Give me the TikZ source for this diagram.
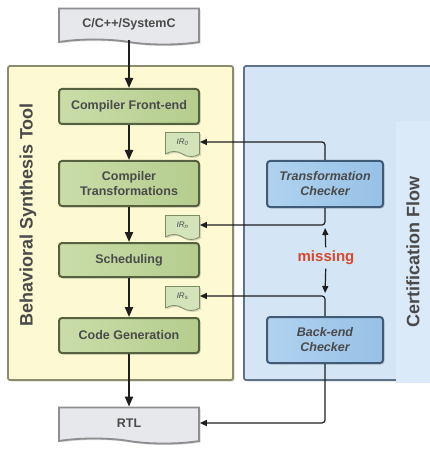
\documentclass[tikz,border=0pt]{standalone}
\usepackage{fontspec}
\setmainfont{Liberation Sans}
\usetikzlibrary{arrows.meta,shapes.symbols,shadows}
\definecolor{papel}{HTML}{E7E8EB}
\definecolor{bordegris}{HTML}{8E8E90}
\definecolor{amarillo}{HTML}{FCF9D3}
\definecolor{bordeamarillo}{HTML}{8A8C6C}
\definecolor{celeste}{HTML}{D4E6F6}
\definecolor{celestepalido}{HTML}{DAEAF8}
\definecolor{bordeceleste}{HTML}{5E7389}
\definecolor{verdeclaro}{HTML}{CADDA9}
\definecolor{verdeoscuro}{HTML}{B4CD8E}
\definecolor{bordeverde}{HTML}{56623F}
\definecolor{verdeir}{HTML}{D3E4BA}
\definecolor{bordeir}{HTML}{7E8C66}
\definecolor{azulclaro}{HTML}{B0D2EF}
\definecolor{azuloscuro}{HTML}{97C1E6}
\definecolor{bordeazul}{HTML}{3F5B77}
\definecolor{texto}{HTML}{4A4A4A}
\definecolor{rojo}{HTML}{D9482C}
\definecolor{negro}{HTML}{1E1E1E}
\begin{document}
\begin{tikzpicture}[x=1pt,y=-1pt,
  sombra/.style={drop shadow={opacity=0.3,shadow xshift=1.5pt,shadow yshift=-1.5pt}},
  etapa/.style={sombra,draw=bordeverde,line width=2pt,rounded corners=3pt,
    left color=verdeclaro,right color=verdeoscuro,text=texto,align=center,
    font=\bfseries\fontsize{12.5}{15}\selectfont,minimum width=140pt},
  revisor/.style={sombra,draw=bordeazul,line width=2pt,rounded corners=3pt,
    left color=azulclaro,right color=azuloscuro,text=texto,align=center,
    font=\bfseries\itshape\fontsize{12.5}{15}\selectfont,
    minimum width=116pt,minimum height=46pt},
  archivo/.style={sombra,tape,tape bend top=none,tape bend bottom=out and in,
    draw=bordegris,line width=1.8pt,fill=papel,text=texto,
    font=\bfseries\fontsize{12.5}{15}\selectfont,minimum width=140pt,minimum height=36pt},
  ir/.style={sombra,tape,tape bend top=none,tape bend bottom=out and in,tape bend height=5pt,
    draw=bordeir,line width=0.8pt,fill=verdeir,text=texto,
    font=\itshape\fontsize{8}{9}\selectfont,minimum width=34pt,minimum height=24pt},
  flujo/.style={line width=2pt,draw=negro,-{Triangle[length=10pt,width=8pt]}},
  retorno/.style={line width=1.2pt,draw=negro,rounded corners=3pt,-{Triangle[length=7pt,width=6pt]}},
  fina/.style={line width=1.2pt,draw=negro,shorten >=3pt,-{Triangle[length=7pt,width=6pt]}},
  titulo/.style={font=\bfseries\fontsize{18}{20}\selectfont,text=texto,rotate=90}]

  \useasboundingbox (0,0) rectangle (429,449);

  \draw[sombra,draw=bordeamarillo,line width=1.8pt,fill=amarillo,rounded corners=2pt] (8,66) rectangle (233,380);
  \draw[sombra,draw=bordeceleste,line width=1.8pt,fill=celeste,rounded corners=2pt] (244,66) rectangle (445,380);

  \node[titulo] (bst) at (28,215) {Behavioral Synthesis Tool};
  \node[titulo,fill=celestepalido,minimum width=262pt,minimum height=34pt] (certif) at (413,252) {Certification Flow};

  \node[archivo] (fuente) at (129,24) {C/C++/SystemC};
  \node[etapa,minimum height=35pt] (frontend) at (129,106.5) {Compiler Front-end};
  \node[etapa,minimum height=45pt] (transf) at (129,183.5) {Compiler\\Transformations};
  \node[etapa,minimum height=34pt] (sched) at (129,260) {Scheduling};
  \node[etapa,minimum height=35pt] (codegen) at (129,335.5) {Code Generation};
  \node[archivo] (rtl) at (129,423) {RTL};

  \node[ir] (irc) at (182.5,142) {IR\textsubscript{0}};
  \node[ir] (irn) at (182.5,225) {IR\textsubscript{n}};
  \node[ir] (irs) at (182.5,296) {IR\textsubscript{s}};

  \node[revisor] (tcheck) at (325,184) {Transformation\\Checker};
  \node[revisor] (bcheck) at (325,340) {Back-end\\Checker};
  \node[font=\bfseries\fontsize{15}{17}\selectfont,text=rojo] (missing) at (326,258) {missing};

  \draw[flujo] (fuente.south) -- (frontend.north);
  \draw[flujo] (frontend) -- (transf);
  \draw[flujo] (transf) -- (sched);
  \draw[flujo] (sched) -- (codegen);
  \draw[flujo] (codegen) -- (rtl.north);

  \draw[retorno] (tcheck.north) |- (irc.east);
  \draw[retorno] (tcheck.south) |- (irn.east);
  \draw[retorno] (bcheck.north) |- (irs.east);
  \draw[retorno] (bcheck.south) |- (rtl.east);

  \coordinate (codo1) at (tcheck.south |- irn.east);
  \coordinate (codo2) at (bcheck.north |- irs.east);
  \draw[fina] (missing) -- (codo1);
  \draw[fina] (missing) -- (codo2);

\end{tikzpicture}
\end{document}
